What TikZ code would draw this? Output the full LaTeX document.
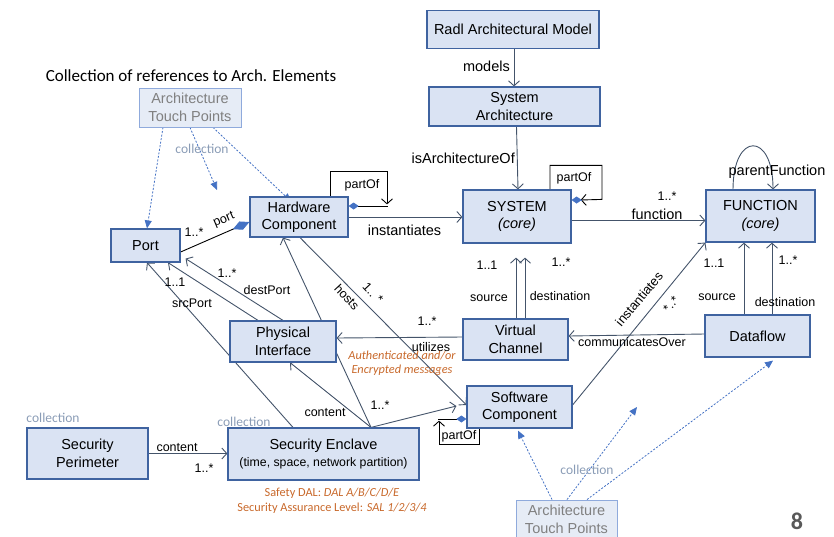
\documentclass[tikz,border=0pt]{standalone}
\usepackage{fontspec}
\setmainfont{Liberation Sans}
\newfontfamily\calfont{Carlito}
\usetikzlibrary{arrows.meta,backgrounds}

\definecolor{boxfill}{HTML}{DAE3F3}
\definecolor{boxline}{HTML}{3F63A0}
\definecolor{connclr}{HTML}{44546A}
\definecolor{refblue}{HTML}{4472C4}
\definecolor{touchfill}{HTML}{E6ECF6}
\definecolor{touchline}{HTML}{8FAADC}
\definecolor{touchtext}{HTML}{808080}
\definecolor{collgray}{HTML}{8A9CB6}
\definecolor{noteclr}{HTML}{C8682A}
\definecolor{pagenum}{HTML}{595959}

\begin{document}
\begin{tikzpicture}[x=1pt, y=-1pt,
  box/.style={draw=boxline, fill=boxfill, line width=1.2pt, inner sep=0pt,
    align=center, font=\fontsize{14.5}{17.5}\selectfont},
  touch/.style={draw=touchline, fill=touchfill, line width=0.9pt, inner sep=0pt,
    align=center, text=touchtext, font=\fontsize{14.5}{17.5}\selectfont},
  conn/.style={draw=connclr, line width=0.9pt, -{Straight Barb[length=5pt,width=11pt]}},
  portlink/.style={draw=black, line width=0.9pt, {Diamond[length=18pt,width=9pt,color=refblue]}-},
  loopline/.style={draw=black, line width=0.9pt},
  looparrow/.style={draw=black, line width=0.9pt, -{Straight Barb[length=5pt,width=11pt]}},
  loopdiamond/.style={draw=black, line width=0.9pt, {Diamond[length=10pt,width=7pt,color=refblue]}-},
  ref/.style={draw=refblue, line width=0.8pt, dash pattern=on 2pt off 1.6pt,
    -{Triangle[length=8pt,width=7pt]}},
  lbl/.style={inner sep=0pt, font=\fontsize{12.5}{14}\selectfont},
  biglbl/.style={inner sep=0pt, font=\fontsize{14.5}{16}\selectfont},
  coll/.style={inner sep=0pt, text=collgray, font=\calfont\fontsize{13.5}{15}\selectfont},
  note/.style={inner sep=0pt, text=noteclr, align=center, font=\calfont\fontsize{12.3}{14}\selectfont},
]
\useasboundingbox (0,0) rectangle (834,536);

% ---------- model elements ----------
\node[box, minimum width=172, minimum height=38] (radl) at (513,29.5) {Radl Architectural Model};
\node[box, minimum width=171, minimum height=39] (sysarch) at (514.5,106.5) {System\\Architecture};
\node[box, minimum width=108, minimum height=53] (system) at (517,216.5) {SYSTEM\\\textit{(core)}};
\node[box, minimum width=109, minimum height=52] (function) at (760.5,216) {FUNCTION\\\textit{(core)}};
\node[box, minimum width=98, minimum height=40] (hw) at (299,217) {Hardware\\Component};
\node[box, minimum width=69, minimum height=33] (port) at (145.5,245.5) {Port};
\node[box, minimum width=106, minimum height=41] (phys) at (283,341.5) {Physical\\Interface};
\node[box, minimum width=105, minimum height=41] (vc) at (515.5,339.5) {Virtual\\Channel};
\node[box, minimum width=105, minimum height=42] (dataflow) at (757.5,336) {Dataflow};
\node[box, minimum width=105, minimum height=42] (sw) at (519.5,407) {Software\\Component};
\node[box, minimum width=121, minimum height=51] (secper) at (87.5,453.5) {Security\\Perimeter};
\node[box, minimum width=191, minimum height=52] (secenc) at (323.5,454)
  {Security Enclave\\{\fontsize{12.3}{15}\selectfont (time, space, network partition)}};
\node[touch, minimum width=102, minimum height=39] (atp1) at (190,107.5) {Architecture\\Touch Points};
\node[touch, minimum width=101, minimum height=39] (atp2) at (566.5,519.5) {Architecture\\Touch Points};

% ---------- free text ----------
\node[inner sep=0pt, font=\calfont\fontsize{17}{20}\selectfont] (title) at (191,76)
  {Collection of references to Arch. Elements};
\node[anchor=north, inner sep=0pt, text=pagenum, font=\calfont\bfseries\fontsize{24}{26}\selectfont] (pagenr) at (797,513) {8};
\node[coll] (collA) at (202,149) {collection};
\node[coll] (collB) at (587,470) {collection};
\node[coll] (collC) at (53,418) {collection};
\node[coll] (collD) at (244,422) {collection};
\node[note] (msgnote) at (402,363) {\itshape Authenticated and/or\\\itshape Encrypted messages};
\node[note] (dal) at (332,493) {Safety DAL: \textit{DAL A/B/C/D/E}};
\node[note] (sal) at (332,508) {Security Assurance Level: \textit{SAL 1/2/3/4}};

% free ends of the touch-point references
\coordinate (touchA) at (217,190);
\coordinate (touchB) at (637,407);

% ---------- connectors ----------
\begin{scope}[on background layer]
  % model hierarchy
  \draw[conn] (radl.south -| 514,0) -- (sysarch.north -| 514,0);
  \draw[conn] ([xshift=2pt]sysarch.south) -- ([xshift=1pt]system.north);
  \draw[conn] (hw.east) -- (hw.east -| system.west);
  \draw[conn] ([yshift=-4pt]system.east) -- ([yshift=-4pt]system.east -| function.west);

  % ports
  \draw[portlink] ([yshift=-5pt]hw.west) -- ([yshift=-6.5pt]port.east);
  \draw[conn] (phys.north) -- ([xshift=5pt,yshift=4pt]port.south east);
  \draw[conn] ([xshift=-25pt]phys.north) -- ([xshift=22.5pt]port.south);
  \draw[conn] ([xshift=-30.5pt]secenc.north) -- ([xshift=1.5pt]port.south);

  % security enclave contents
  \draw[conn] ([xshift=47.5pt]secenc.north) -- ([xshift=-16pt]hw.south);
  \draw[conn] ([xshift=47.5pt]secenc.north) -- ([xshift=7pt]phys.south);
  \draw[conn] ([xshift=47.5pt]secenc.north) -- ([xshift=-10pt,yshift=1pt]sw.west);
  \draw[conn] (secper.east) -- (secper.east -| secenc.west);

  % hosting and channels
  \draw[conn] ([xshift=1pt]hw.south) -- ([yshift=2pt]sw.west);
  \draw[conn] ([yshift=2.5pt]vc.west) -- ([yshift=3.5pt]phys.east);
  \draw[conn] ([xshift=0.5pt]vc.north) -- ([xshift=-1pt,yshift=-14pt]system.south);
  \draw[conn] ([xshift=9.5pt]vc.north) -- ([xshift=8pt,yshift=-14pt]system.south);
  \draw[conn] ([xshift=-13.5pt]dataflow.north) -- ([xshift=-16.5pt]function.south);
  \draw[conn] ([xshift=14.5pt]dataflow.north) -- ([xshift=11.5pt]function.south);
  \draw[conn] ([yshift=2pt]dataflow.west) -- ([yshift=3.5pt]vc.east);
  \draw[conn] ([yshift=2pt]sw.east) -- (function.south west);

  % parent function
  \draw[conn] ([xshift=-27.5pt]function.north) .. controls +(0,-58) and +(0,-58) .. ([xshift=12.5pt]function.north);

  % partOf loops
  \draw[looparrow] ([xshift=33pt]system.north) -- ++(0,-24) -- ++(52,0) -- ++(0,34)
    -- ([xshift=9pt,yshift=16.5pt]system.east);
  \draw[refblue, {Diamond[length=10pt,width=7pt]}-] ([yshift=16.5pt]system.east) -- ++(9,0);

  \draw[looparrow] ([xshift=31pt]hw.north) -- ++(0,-25) -- ++(57,0) -- ++(0,33);
  \draw[loopdiamond] ([yshift=11pt]hw.east) -- ++(39,0);

  \draw[looparrow] ([xshift=-40.5pt]sw.south) -- ++(0,16) -- ++(-40,0) -- ++(0,-24);
  \draw[loopdiamond] ([yshift=-12pt]sw.west) -- ++(-28,0);

  % touch point references
  \draw[ref] ([xshift=-27pt]atp1.south) -- ([xshift=1.5pt]port.north);
  \draw[ref] (atp1.south) -- (touchA);
  \draw[ref] ([xshift=23pt]atp1.south) -- ([xshift=-8pt,yshift=-5pt]hw.north);
  \draw[ref] ([xshift=-14.5pt]atp2.north) -- ([xshift=-1.5pt,yshift=-2pt]sw.south);
  \draw[ref] ([xshift=0.5pt]atp2.north) -- (touchB);
  \draw[ref] ([xshift=20.5pt]atp2.north) -- ([xshift=15.5pt,yshift=-3pt]dataflow.south);
\end{scope}

% ---------- connector labels ----------
\node[biglbl, anchor=east] (lmodels) at (510,66) {models};
\node[biglbl, anchor=east] (lisarch) at (515,158) {isArchitectureOf};
\node[biglbl] (linst) at (404.5,230) {instantiates};
\node[biglbl] (lfunc) at (657,214) {function};
\node[lbl] (lfuncm) at (667,196) {1..*};
\node[biglbl] (lparent) at (777,172) {parentFunction};
\node[lbl] (lpartsys) at (574,178) {partOf};
\node[lbl] (lparthw) at (362,185) {partOf};
\node[lbl] (lpartsw) at (459,436) {partOf};
\node[lbl, rotate=23] (lport) at (224,220) {port};
\node[lbl] (lportm) at (194,232) {1..*};
\node[lbl] (ldestm) at (227,273) {1..*};
\node[lbl] (ldest) at (267,290) {destPort};
\node[lbl] (lsrcm) at (175,282) {1..1};
\node[lbl] (lsrc) at (192,303) {srcPort};
\node[lbl, rotate=-47] (lhosts) at (347,297) {hosts};
\node[lbl, rotate=-47] (lhostsm) at (373,293) {1.. *};
\node[lbl] (lutilm) at (427,321) {1..*};
\node[lbl] (lutil) at (431,347) {utilizes};
\node[lbl] (lcontent) at (325,413) {content};
\node[lbl] (lswm) at (380,405) {1..*};
\node[lbl] (lpercont) at (177,448) {content};
\node[lbl] (lperm) at (204,468) {1..*};
\node[lbl] (lvcsm) at (487,265) {1..1};
\node[lbl] (lvcdm) at (561,262) {1..*};
\node[lbl] (lvcs) at (489,298) {source};
\node[lbl] (lvcd) at (560,296) {destination};
\node[lbl] (ldfsm) at (714,263) {1..1};
\node[lbl] (ldfdm) at (788,260) {1..*};
\node[lbl] (ldfs) at (717,297) {source};
\node[lbl] (ldfd) at (785,302) {destination};
\node[lbl] (lcomm) at (632,342) {communicatesOver};
\node[lbl, font=\fontsize{13}{14}\selectfont, rotate=50] (lswinst) at (639,299) {instantiates};
\node[lbl, rotate=50] (lswm2) at (671,304) {*..*};
\end{tikzpicture}
\end{document}
